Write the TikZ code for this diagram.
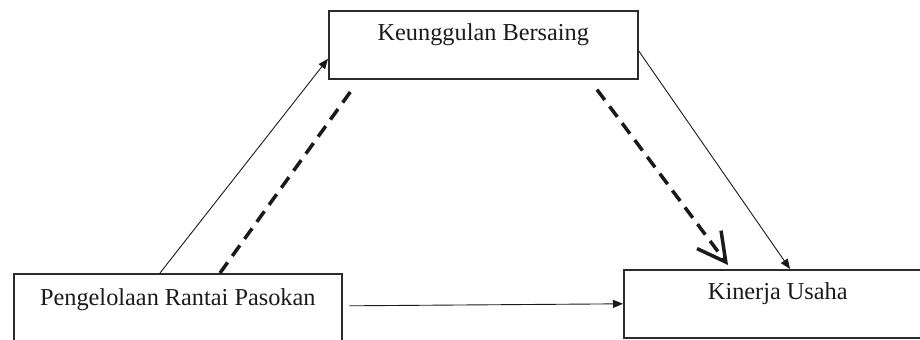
\documentclass[tikz,border=0pt]{standalone}
\usepackage{fontspec}
\setmainfont{Liberation Serif}
\usetikzlibrary{arrows.meta}
\definecolor{boxLineColor}{HTML}{2B2B2B}
\definecolor{linkColor}{HTML}{1A1A1A}
\definecolor{labelTextColor}{HTML}{1A1A1A}
\def\textA{Keunggulan Bersaing}
\def\textB{Pengelolaan Rantai Pasokan}
\def\textC{Kinerja Usaha}
\tikzset{
  varBox/.style={draw=boxLineColor, line width=1.6bp, inner sep=0pt,
    text=labelTextColor, text height=30bp, text depth=38bp,
    font=\fontsize{24.4}{28}\selectfont},
  thinLink/.style={draw=linkColor, line width=0.9bp,
    -{Triangle[length=10bp, width=8bp]}},
  dashLink/.style={draw=linkColor, line width=3.5bp,
    dash pattern=on 13bp off 8bp}
}

\begin{document}
\begin{tikzpicture}[x=1bp,y=-1bp]
\useasboundingbox (0, 0) rectangle (920, 339);

% box layer
\begin{scope}
\node[varBox, minimum width=309bp, anchor=north west] (kb) at (328, 10) {\textA};
\node[varBox, minimum width=328bp, text height=32bp, text depth=36bp,
  anchor=north west] (prp) at (13, 273) {\textB};
\node[varBox, minimum width=308bp, anchor=north west] (ku) at (623, 269) {\textC};
\end{scope}

% free ends of the dashed links
\coordinate (dashEndA) at ([xshift=24bp, yshift=-10bp]kb.south west);
\coordinate (dashStartB) at ([xshift=269bp, yshift=-10bp]kb.south west);
\coordinate (lineStartC) at ([xshift=7bp, yshift=2bp]prp.east);

% link layer
\begin{scope}
\draw[thinLink] ([xshift=147bp]prp.north west) -- ([yshift=-14bp]kb.west);
\draw[dashLink] ([xshift=207bp]prp.north west) -- (dashEndA);
\draw[thinLink] ([yshift=-6bp]kb.east) -- ([xshift=167bp]ku.north west);
\draw[dashLink, -{Straight Barb[length=28bp, width=30bp]}] (dashStartB)
  -- ([xshift=105bp, yshift=4bp]ku.north west);
\draw[thinLink] (lineStartC) -- (ku.west);
\end{scope}

\end{tikzpicture}
\end{document}
